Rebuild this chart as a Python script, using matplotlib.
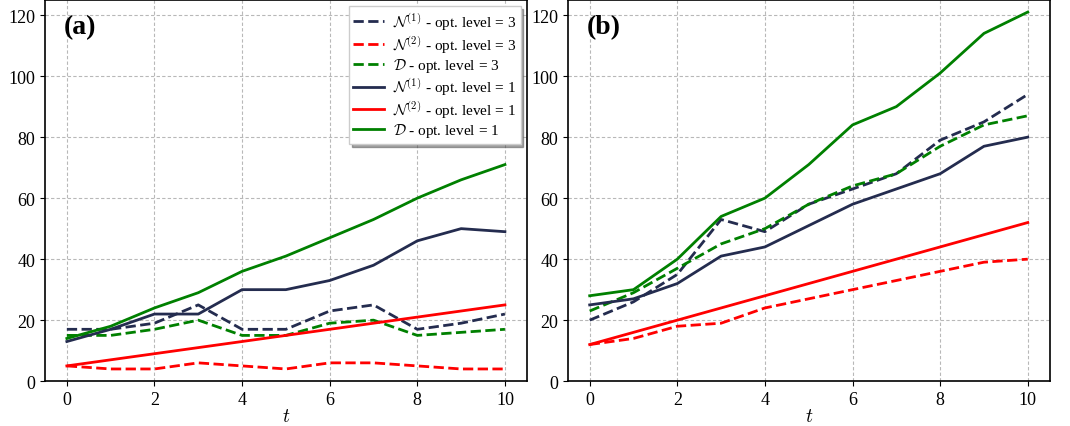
import numpy as np
import matplotlib
matplotlib.use("Agg")
import matplotlib.pyplot as plt

plt.rcParams['font.family'] = ['Liberation Serif', 'DejaVu Serif']
plt.rcParams['mathtext.fontset'] = 'cm'
plt.rcParams['font.size'] = 13

t = np.arange(0, 11)

# panel (a)
a_n1_opt3 = [17, 17, 19, 25, 17, 17, 23, 25, 17, 19, 22]
a_n2_opt3 = [5, 4, 4, 6, 5, 4, 6, 6, 5, 4, 4]
a_d_opt3 = [15, 15, 17, 20, 15, 15, 19, 20, 15, 16, 17]
a_n1_opt1 = [13, 17, 22, 22, 30, 30, 33, 38, 46, 50, 49]
a_n2_opt1 = [5, 7, 9, 11, 13, 15, 17, 19, 21, 23, 25]
a_d_opt1 = [14, 18, 24, 29, 36, 41, 47, 53, 60, 66, 71]

# panel (b)
b_n1_opt3 = [20, 26, 35, 53, 49, 58, 63, 68, 79, 85, 94]
b_n2_opt3 = [12, 14, 18, 19, 24, 27, 30, 33, 36, 39, 40]
b_d_opt3 = [23, 29, 37, 45, 50, 58, 64, 68, 77, 84, 87]
b_n1_opt1 = [25, 27, 32, 41, 44, 51, 58, 63, 68, 77, 80]
b_n2_opt1 = [12, 16, 20, 24, 28, 32, 36, 40, 44, 48, 52]
b_d_opt1 = [28, 30, 40, 54, 60, 71, 84, 90, 101, 114, 121]

navy = '#242c4f'
labels = [r'$\mathcal{N}^{(1)}$ - opt. level = 3',
          r'$\mathcal{N}^{(2)}$ - opt. level = 3',
          r'$\mathcal{D}$ - opt. level = 3',
          r'$\mathcal{N}^{(1)}$ - opt. level = 1',
          r'$\mathcal{N}^{(2)}$ - opt. level = 1',
          r'$\mathcal{D}$ - opt. level = 1']

fig, axes = plt.subplots(1, 2, figsize=(10.7, 4.27), dpi=100)
fig.subplots_adjust(left=0.042, right=0.981, bottom=0.105, top=0.998, wspace=0.085)

panels = [
    ('(a)', [a_n1_opt3, a_n2_opt3, a_d_opt3, a_n1_opt1, a_n2_opt1, a_d_opt1]),
    ('(b)', [b_n1_opt3, b_n2_opt3, b_d_opt3, b_n1_opt1, b_n2_opt1, b_d_opt1]),
]
colors = [navy, 'red', 'green', navy, 'red', 'green']
styles = ['--', '--', '--', '-', '-', '-']

for ax, (tag, series) in zip(axes, panels):
    for y, c, ls, lab in zip(series, colors, styles, labels):
        ax.plot(t, y, color=c, linestyle=ls, linewidth=2, label=lab)
    ax.set_xlim(-0.5, 10.5)
    ax.set_ylim(0, 125)
    ax.set_xticks([0, 2, 4, 6, 8, 10])
    ax.set_yticks([0, 20, 40, 60, 80, 100, 120])
    ax.grid(True, linestyle=(0, (3, 2)), color='#b8b8b8', linewidth=0.8)
    ax.set_xlabel(r'$t$', fontsize=14, labelpad=0)
    ax.text(0.04, 0.93, tag, transform=ax.transAxes, fontsize=20,
            fontweight='bold', va='center', ha='left')
    for s in ax.spines.values():
        s.set_linewidth(1.2)

axes[0].legend(loc='upper right', fontsize=11, fancybox=False, shadow=True,
               framealpha=1, edgecolor='#cccccc', handlelength=2.0,
               borderaxespad=0.4, labelspacing=0.1, handletextpad=0.6,
               borderpad=0.3)

plt.savefig('out.png', dpi=100)
